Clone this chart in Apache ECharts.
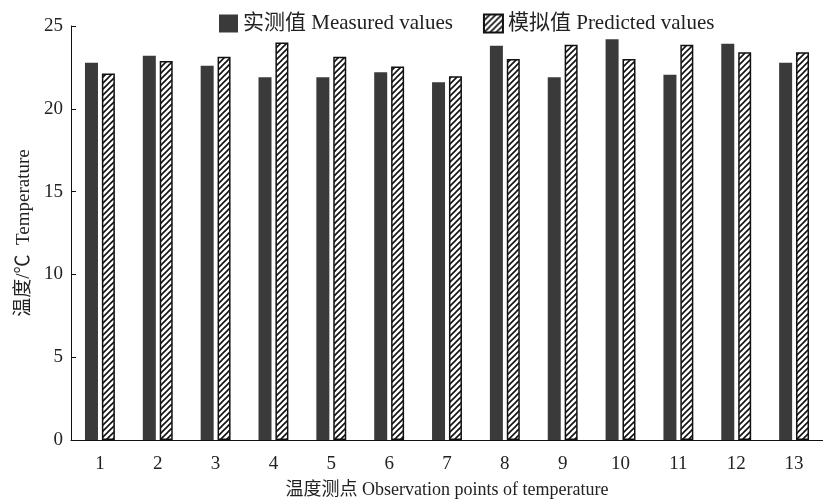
<!DOCTYPE html>
<html>
<head>
<meta charset="utf-8">
<script src="https://cdn.jsdelivr.net/npm/echarts@6/dist/echarts.min.js"></script>
<style>
  html, body { margin: 0; padding: 0; background: #fff; }
  #main { width: 823px; height: 504px; }
</style>
</head>
<body>
<div id="main"></div>
<script>
const points = ['1', '2', '3', '4', '5', '6', '7', '8', '9', '10', '11', '12', '13']
const measured = [22.78, 23.21, 22.6, 21.9, 21.9, 22.2, 21.6, 23.8, 21.9, 24.2, 22.05, 23.93, 22.78]
const predicted = [22.13, 22.88, 23.15, 24.0, 23.15, 22.55, 21.97, 23.0, 23.87, 23.0, 23.87, 23.41, 23.41]

const font = "'Liberation Serif', 'Noto Sans CJK SC', serif"

// 斜线填充
function hatch() {
  const c = document.createElement('canvas')
  c.width = 6
  c.height = 6
  const ctx = c.getContext('2d')
  ctx.fillStyle = '#fff'
  ctx.fillRect(0, 0, 6, 6)
  ctx.strokeStyle = '#111'
  ctx.lineWidth = 1.6
  ctx.beginPath()
  ctx.moveTo(0, 6)
  ctx.lineTo(6, 0)
  ctx.moveTo(-1, 1)
  ctx.lineTo(1, -1)
  ctx.moveTo(5, 7)
  ctx.lineTo(7, 5)
  ctx.stroke()
  return c
}

const chart = echarts.init(document.getElementById('main'))
chart.setOption({
  animation: false,
  textStyle: { fontFamily: font },
  grid: { left: 71, top: 26, width: 758, height: 420 },
  legend: {
    left: 214,
    top: 8,
    icon: 'rect',
    itemWidth: 19,
    itemHeight: 18,
    itemGap: 30,
    textStyle: { fontFamily: font, fontSize: 21, color: '#222' },
    data: ['实测值 Measured values', '模拟值 Predicted values']
  },
  xAxis: {
    type: 'category',
    data: points,
    name: '温度测点 Observation points of temperature',
    nameLocation: 'middle',
    nameGap: 41,
    nameTextStyle: { fontFamily: font, fontSize: 18, color: '#222' },
    axisLine: { lineStyle: { color: '#111', width: 1 } },
    axisTick: { show: false },
    axisLabel: { fontFamily: font, fontSize: 19, color: '#222', margin: 15 }
  },
  yAxis: {
    type: 'value',
    min: 0,
    max: 25,
    interval: 5,
    name: '温度/℃  Temperature',
    nameLocation: 'middle',
    nameGap: 35,
    nameTextStyle: { fontFamily: font, fontSize: 19, color: '#222' },
    axisLine: { show: true, lineStyle: { color: '#111', width: 1 } },
    axisTick: { show: true, inside: true, length: 5, lineStyle: { color: '#111' } },
    axisLabel: { fontFamily: font, fontSize: 19, color: '#222', margin: 8 },
    splitLine: { show: false }
  },
  series: [
    {
      type: 'bar',
      name: '实测值 Measured values',
      data: measured,
      barWidth: 13,
      barGap: '30%',
      itemStyle: { color: '#3a3a3a' }
    },
    {
      type: 'bar',
      name: '模拟值 Predicted values',
      data: predicted,
      barWidth: 13,
      itemStyle: {
        color: { image: hatch(), repeat: 'repeat' },
        borderColor: '#111',
        borderWidth: 1.5
      }
    }
  ]
})
</script>
</body>
</html>
